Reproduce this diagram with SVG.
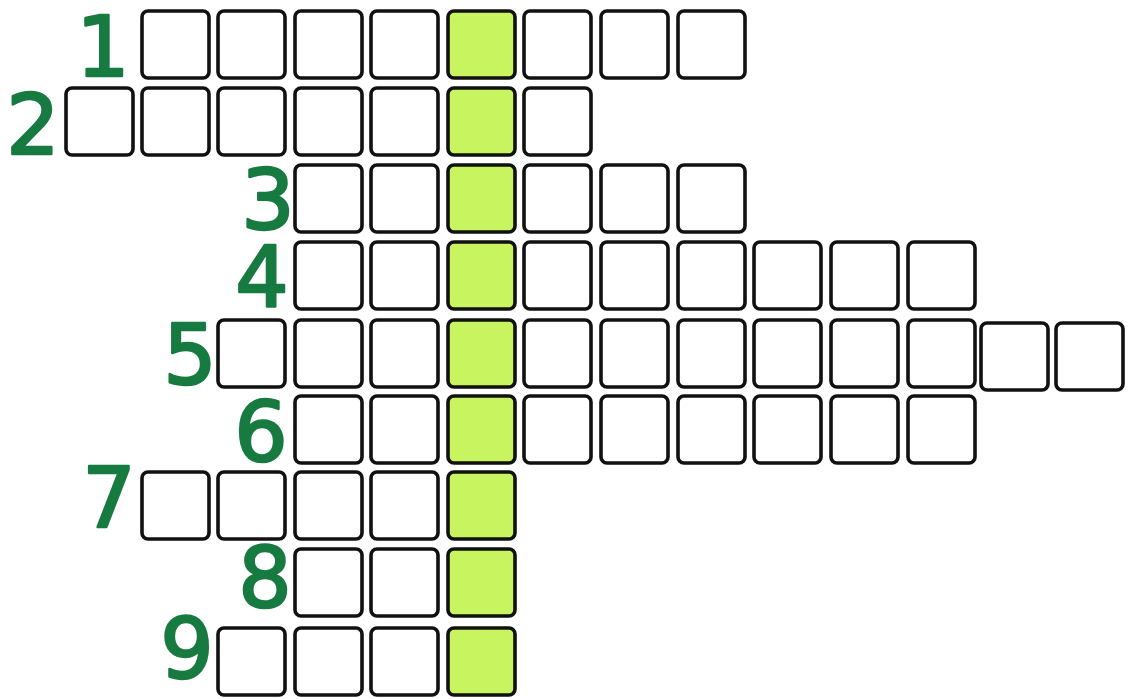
<svg xmlns="http://www.w3.org/2000/svg" width="1136" height="699" viewBox="0 0 1136 699">
<style>
.c{fill:#ffffff;stroke:#111111;stroke-width:3.6;stroke-linejoin:round}
.g{fill:#c8f55f;stroke:#111111;stroke-width:3.6;stroke-linejoin:round}
.n{font-family:"DejaVu Sans","Liberation Sans",sans-serif;font-size:84px;fill:#177a40;stroke:#177a40;stroke-width:2.5;stroke-linejoin:round;text-anchor:middle}
</style>
<rect width="1136" height="699" fill="#ffffff"/>
<g id="row1">
<text class="n" x="103" y="76">1</text>
<rect class="c" x="142" y="11" width="67" height="67" rx="6"/>
<rect class="c" x="218" y="11" width="67" height="67" rx="6"/>
<rect class="c" x="295" y="11" width="67" height="67" rx="6"/>
<rect class="c" x="371" y="11" width="67" height="67" rx="6"/>
<rect class="g" x="448" y="11" width="67" height="67" rx="6"/>
<rect class="c" x="524" y="11" width="67" height="67" rx="6"/>
<rect class="c" x="601" y="11" width="67" height="67" rx="6"/>
<rect class="c" x="678" y="11" width="67" height="67" rx="6"/>
</g>
<g id="row2">
<text class="n" x="33" y="154">2</text>
<rect class="c" x="66" y="88" width="67" height="67" rx="6"/>
<rect class="c" x="142" y="88" width="67" height="67" rx="6"/>
<rect class="c" x="218" y="88" width="67" height="67" rx="6"/>
<rect class="c" x="295" y="88" width="67" height="67" rx="6"/>
<rect class="c" x="371" y="88" width="67" height="67" rx="6"/>
<rect class="g" x="448" y="88" width="67" height="67" rx="6"/>
<rect class="c" x="524" y="88" width="67" height="67" rx="6"/>
</g>
<g id="row3">
<text class="n" x="268" y="229">3</text>
<rect class="c" x="295" y="165" width="67" height="67" rx="6"/>
<rect class="c" x="371" y="165" width="67" height="67" rx="6"/>
<rect class="g" x="448" y="165" width="67" height="67" rx="6"/>
<rect class="c" x="524" y="165" width="67" height="67" rx="6"/>
<rect class="c" x="601" y="165" width="67" height="67" rx="6"/>
<rect class="c" x="678" y="165" width="67" height="67" rx="6"/>
</g>
<g id="row4">
<text class="n" x="262" y="306">4</text>
<rect class="c" x="295" y="242" width="67" height="67" rx="6"/>
<rect class="c" x="371" y="242" width="67" height="67" rx="6"/>
<rect class="g" x="448" y="242" width="67" height="67" rx="6"/>
<rect class="c" x="524" y="242" width="67" height="67" rx="6"/>
<rect class="c" x="601" y="242" width="67" height="67" rx="6"/>
<rect class="c" x="678" y="242" width="67" height="67" rx="6"/>
<rect class="c" x="754" y="242" width="67" height="67" rx="6"/>
<rect class="c" x="831" y="242" width="67" height="67" rx="6"/>
<rect class="c" x="908" y="242" width="67" height="67" rx="6"/>
</g>
<g id="row5">
<text class="n" x="190" y="384">5</text>
<rect class="c" x="218" y="320" width="67" height="67" rx="6"/>
<rect class="c" x="295" y="320" width="67" height="67" rx="6"/>
<rect class="c" x="371" y="320" width="67" height="67" rx="6"/>
<rect class="g" x="448" y="320" width="67" height="67" rx="6"/>
<rect class="c" x="524" y="320" width="67" height="67" rx="6"/>
<rect class="c" x="601" y="320" width="67" height="67" rx="6"/>
<rect class="c" x="678" y="320" width="67" height="67" rx="6"/>
<rect class="c" x="754" y="320" width="67" height="67" rx="6"/>
<rect class="c" x="831" y="320" width="67" height="67" rx="6"/>
<rect class="c" x="908" y="320" width="67" height="67" rx="6"/>
<rect class="c" x="981" y="323" width="67" height="67" rx="6"/>
<rect class="c" x="1056" y="323" width="67" height="67" rx="6"/>
</g>
<g id="row6">
<text class="n" x="261" y="461">6</text>
<rect class="c" x="295" y="396" width="67" height="67" rx="6"/>
<rect class="c" x="371" y="396" width="67" height="67" rx="6"/>
<rect class="g" x="448" y="396" width="67" height="67" rx="6"/>
<rect class="c" x="524" y="396" width="67" height="67" rx="6"/>
<rect class="c" x="601" y="396" width="67" height="67" rx="6"/>
<rect class="c" x="678" y="396" width="67" height="67" rx="6"/>
<rect class="c" x="754" y="396" width="67" height="67" rx="6"/>
<rect class="c" x="831" y="396" width="67" height="67" rx="6"/>
<rect class="c" x="908" y="396" width="67" height="67" rx="6"/>
</g>
<g id="row7">
<text class="n" x="109" y="527">7</text>
<rect class="c" x="142" y="472" width="67" height="67" rx="6"/>
<rect class="c" x="218" y="472" width="67" height="67" rx="6"/>
<rect class="c" x="295" y="472" width="67" height="67" rx="6"/>
<rect class="c" x="371" y="472" width="67" height="67" rx="6"/>
<rect class="g" x="448" y="472" width="67" height="67" rx="6"/>
</g>
<g id="row8">
<text class="n" x="265" y="607">8</text>
<rect class="c" x="295" y="549" width="67" height="67" rx="6"/>
<rect class="c" x="371" y="549" width="67" height="67" rx="6"/>
<rect class="g" x="448" y="549" width="67" height="67" rx="6"/>
</g>
<g id="row9">
<text class="n" x="187" y="678">9</text>
<rect class="c" x="218" y="628" width="67" height="67" rx="6"/>
<rect class="c" x="295" y="628" width="67" height="67" rx="6"/>
<rect class="c" x="371" y="628" width="67" height="67" rx="6"/>
<rect class="g" x="448" y="628" width="67" height="67" rx="6"/>
</g>
<g id="connectors"></g>
</svg>
